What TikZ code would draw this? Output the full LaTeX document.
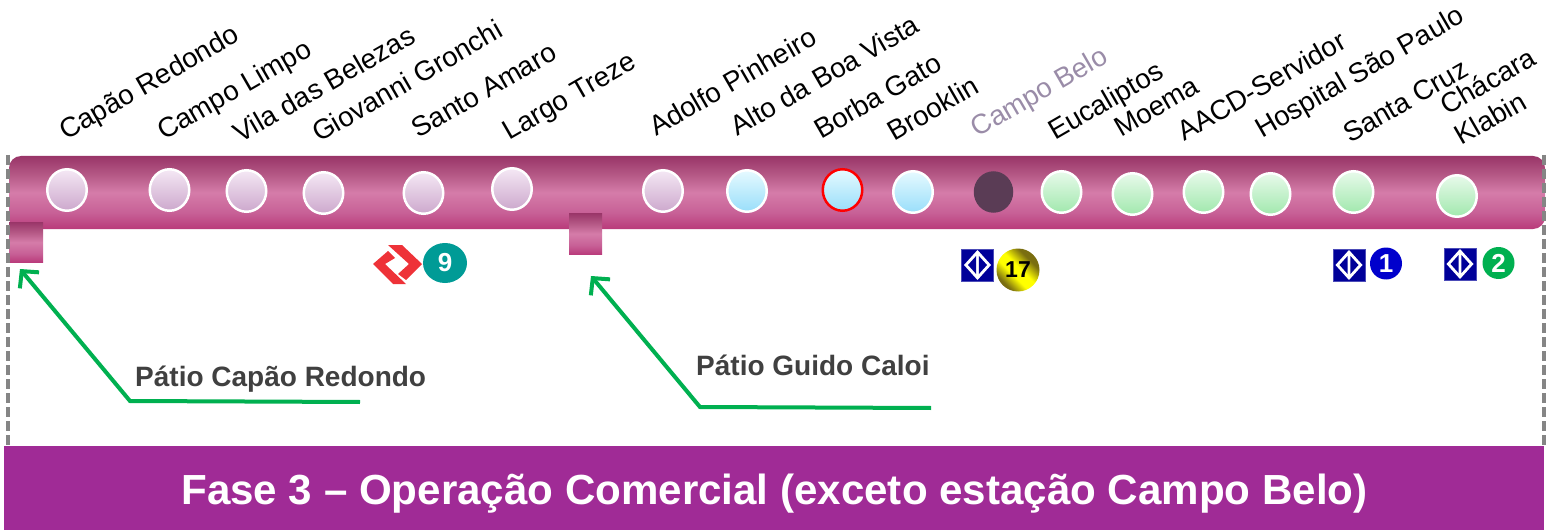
\documentclass[tikz,border=0pt]{standalone}
\usepackage{fontspec}
\setmainfont{Liberation Sans}
\usetikzlibrary{shapes.geometric,arrows.meta}
\definecolor{bannerc}{HTML}{A02B96}
\definecolor{labelc}{HTML}{404040}
\definecolor{pathc}{HTML}{00B050}
\definecolor{dashc}{HTML}{858585}
\definecolor{metroc}{HTML}{000099}
\definecolor{belo}{HTML}{9A8CA8}
\definecolor{logored}{HTML}{EE3238}
\definecolor{teal9}{HTML}{009B96}
\definecolor{blue1}{HTML}{0000CC}
\definecolor{darkdot}{HTML}{5A3C55}
\definecolor{barA}{HTML}{B93A7A}
\definecolor{barB}{HTML}{C76096}
\definecolor{barC}{HTML}{D57CA9}
\definecolor{barD}{HTML}{B55986}
\definecolor{barE}{HTML}{993568}
\definecolor{lilA}{HTML}{CCA8CC}
\definecolor{lilB}{HTML}{F5E8F5}
\definecolor{skyA}{HTML}{99DEFA}
\definecolor{skyB}{HTML}{E6FAFF}
\definecolor{minA}{HTML}{A1E8AD}
\definecolor{minB}{HTML}{E8FAEB}
\definecolor{golA}{HTML}{7A6E10}
\definecolor{golB}{HTML}{FFFF00}
\pgfdeclareverticalshading{barshade}{100bp}{
  color(0bp)=(barA);
  color(25bp)=(barA);
  color(36bp)=(barB);
  color(50bp)=(barC);
  color(62bp)=(barD);
  color(75bp)=(barE);
  color(100bp)=(barE)}
\pgfdeclareverticalshading{lilac}{100bp}{
  color(0bp)=(lilA);
  color(25bp)=(lilA);
  color(75bp)=(lilB);
  color(100bp)=(lilB)}
\pgfdeclareverticalshading{sky}{100bp}{
  color(0bp)=(skyA);
  color(25bp)=(skyA);
  color(75bp)=(skyB);
  color(100bp)=(skyB)}
\pgfdeclareverticalshading{mint}{100bp}{
  color(0bp)=(minA);
  color(25bp)=(minA);
  color(75bp)=(minB);
  color(100bp)=(minB)}
\pgfdeclareverticalshading{goldball}{100bp}{
  color(0bp)=(golA);
  color(32bp)=(golA);
  color(47bp)=(golB);
  color(58bp)=(golB);
  color(72bp)=(golA);
  color(100bp)=(golA)}
\tikzset{
  x=1pt,y=-1pt,
  stationlabel/.style={anchor=base west,rotate=30,inner sep=0pt,text=black,font=\fontsize{27.7}{30}\selectfont},
  stationdot/.style={ellipse,inner sep=0pt,minimum width=39.5pt,minimum height=41.5pt,draw=white,line width=2.5pt},
  lilacdot/.style={stationdot,shading=lilac},
  skydot/.style={stationdot,shading=sky},
  mintdot/.style={stationdot,shading=mint},
  trackbar/.style={shading=barshade,rounded corners=12pt},
  depot/.style={shading=barshade},
  yardlabel/.style={inner sep=0pt,text=labelc,font=\bfseries\fontsize{28}{30}\selectfont},
  yardline/.style={draw=pathc,line width=4pt,-{Straight Barb[length=12pt,width=25pt,line width=4pt]}},
  boundary/.style={draw=dashc,line width=3.5pt,dash pattern=on 10pt off 4pt},
  linebadge/.style={circle,inner sep=0pt,text=white,font=\bfseries\fontsize{26}{28}\selectfont},
}
\newcommand{\metrologo}[3]{%
  \node[rectangle,fill=metroc,draw=metroc!70!white,line width=.8pt,inner sep=0pt,minimum size=32pt] (#1) at (#2,#3) {};
  \fill[white] (#2-13.5,#3) -- (#2,#3-15) -- (#2+13.5,#3) -- (#2,#3+15) -- cycle;
  \fill[metroc] (#2-9.5,#3) -- (#2-1.4,#3-9) -- (#2-1.4,#3+9) -- cycle;
  \fill[metroc] (#2+9.5,#3) -- (#2+1.4,#3-9) -- (#2+1.4,#3+9) -- cycle;
}
\begin{document}
\begin{tikzpicture}
\useasboundingbox (0,0) rectangle (1551,532);
% track
\path[trackbar] (9,156) rectangle (1545,229);
\path[depot] (9,222) rectangle (43,262.5);
\path[depot] (569,213) rectangle (602,254.5);
% boundaries
\coordinate (bl1) at (8,155); \coordinate (bl2) at (8,446);
\coordinate (br1) at (1544,155); \coordinate (br2) at (1544,446);
\draw[boundary] (bl1) -- (bl2);
\draw[boundary] (br1) -- (br2);
% stations
\node[lilacdot] (s1) at (67,190) {};
\node[lilacdot] (s2) at (169.5,190) {};
\node[lilacdot] (s3) at (246.5,191) {};
\node[lilacdot] (s4) at (323.5,193) {};
\node[lilacdot] (s5) at (423.5,193) {};
\node[lilacdot] (s6) at (512,189) {};
\node[lilacdot] (s7) at (663,191) {};
\node[skydot] (s8) at (747,191) {};
\node[skydot,draw=red] (s9) at (842.5,190) {};
\node[skydot] (s10) at (913,192) {};
\node[stationdot,draw=none,fill=darkdot] (s11) at (993.5,192) {};
\node[mintdot] (s12) at (1061.5,192) {};
\node[mintdot] (s13) at (1132.5,194) {};
\node[mintdot] (s14) at (1203.5,192) {};
\node[mintdot] (s15) at (1270.5,194) {};
\node[mintdot] (s16) at (1353.5,192) {};
\node[mintdot] (s17) at (1457,196) {};
% labels
\node[stationlabel] (l1) at (66,141) {Capão Redondo};
\node[stationlabel] (l2) at (164,141) {Campo Limpo};
\node[stationlabel] (l3) at (240,144) {Vila das Belezas};
\node[stationlabel] (l4) at (319,143) {Giovanni Gronchi};
\node[stationlabel] (l5) at (418.5,139) {Santo Amaro};
\node[stationlabel] (l6) at (509.5,141) {Largo Treze};
\node[stationlabel] (l7) at (656,137) {Adolfo Pinheiro};
\node[stationlabel] (l8) at (737.5,137) {Alto da Boa Vista};
\node[stationlabel] (l9) at (821,140) {Borba Gato};
\node[stationlabel] (l10) at (894,142) {Brooklin};
\node[stationlabel,text=belo] (l11) at (977.5,138) {Campo Belo};
\node[stationlabel] (l12) at (1055,141) {Eucaliptos};
\node[stationlabel] (l13) at (1121,138) {Moema};
\node[stationlabel] (l14) at (1184,142) {AACD-Servidor};
\node[stationlabel] (l15) at (1262,139) {Hospital São Paulo};
\node[stationlabel] (l16) at (1350,144) {Santa Cruz};
\node[stationlabel] (l17) at (1447,116) {Chácara};
\node[stationlabel] (l18) at (1461.5,146) {Klabin};
% interchanges
\fill[logored] (373,264) -- (388,251) -- (395,258) -- (385,264) -- (406,284) -- (393,284) -- cycle;
\fill[logored] (388,245) -- (402,245) -- (422,264) -- (406,280) -- (398,274) -- (409,264) -- cycle;
\node[linebadge,ellipse,minimum width=44pt,minimum height=40pt,fill=teal9] (b9) at (445,263) {9};
\metrologo{m17}{977.5}{265}
\node[linebadge,minimum size=43pt,shading=goldball,shading angle=135,text=black,font=\bfseries\fontsize{23}{25}\selectfont] (b17) at (1018,270) {17};
\metrologo{m1}{1349}{265}
\node[linebadge,minimum size=32pt,fill=blue1] (b1) at (1386,263.5) {1};
\metrologo{m2}{1460}{264}
\node[linebadge,minimum size=32pt,fill=pathc] (b2) at (1498.5,263) {2};
% yards
\node[yardlabel,anchor=base west] (y1) at (135,386) {Pátio Capão Redondo};
\node[yardlabel,anchor=base west] (y2) at (696,375) {Pátio Guido Caloi};
\coordinate (a1s) at (360,402); \coordinate (a1m) at (130,401); \coordinate (a1e) at (20,269);
\coordinate (a2s) at (931,408); \coordinate (a2m) at (700,407); \coordinate (a2e) at (591,276);
\draw[yardline] (a1s) -- (a1m) -- (a1e);
\draw[yardline] (a2s) -- (a2m) -- (a2e);
% banner
\fill[bannerc] (4,446) rectangle (1544,530);
\node[text=white,inner sep=0pt,anchor=base,font=\bfseries\fontsize{42.1}{44}\selectfont] (title) at (774.5,504) {Fase 3 – Operação Comercial (exceto estação Campo Belo)};
\end{tikzpicture}
\end{document}
